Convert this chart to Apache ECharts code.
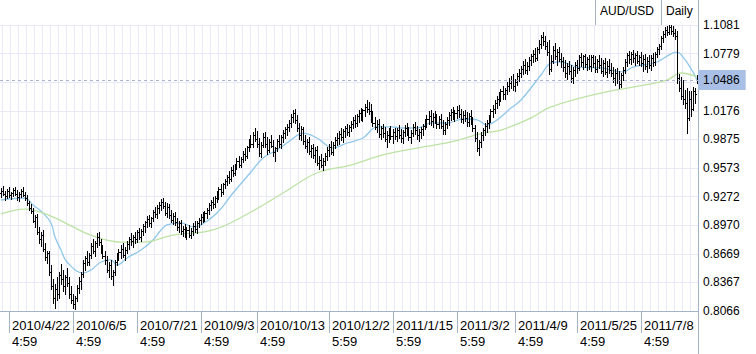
<!DOCTYPE html>
<html>
<head>
<meta charset="utf-8">
<title>AUD/USD Daily</title>
<script src="https://cdn.jsdelivr.net/npm/echarts@6.0.0/dist/echarts.min.js"></script>
<style>
  html, body { margin: 0; padding: 0; background: #fff; }
  #chart { width: 756px; height: 354px; }
</style>
</head>
<body>
<div id="chart"></div>
<script>
// AUD/USD daily bars
var opens = [
  .9310,.9335,.9300,.9280,.9330,.9290,.9310,.9340,.9300,.9270,
  .9300,.9330,.9290,.9260,.9200,.9150,.9120,.9020,.9060,.8900,
  .8820,.8870,.8720,.8640,.8680,.8480,.8330,.8200,.8300,.8250,
  .8450,.8400,.8330,.8420,.8360,.8240,.8180,.8140,.8200,.8310,
  .8380,.8460,.8570,.8620,.8580,.8660,.8750,.8700,.8780,.8850,
  .8790,.8700,.8650,.8600,.8500,.8550,.8430,.8480,.8580,.8650,
  .8690,.8720,.8660,.8710,.8770,.8830,.8800,.8850,.8820,.8900,
  .8850,.8910,.8960,.9000,.9040,.8990,.9050,.9110,.9090,.9150,
  .9180,.9220,.9170,.9100,.9160,.9080,.9030,.9070,.9000,.8950,
  .8990,.8910,.8930,.8880,.8920,.8870,.8910,.8960,.8930,.8990,
  .9030,.9060,.9040,.9100,.9130,.9180,.9220,.9190,.9260,.9310,
  .9350,.9320,.9400,.9440,.9480,.9460,.9550,.9520,.9600,.9650,
  .9610,.9670,.9720,.9700,.9790,.9850,.9830,.9920,.9880,.9830,
  .9730,.9820,.9900,.9830,.9760,.9850,.9810,.9740,.9780,.9860,
  .9830,.9900,.9940,.9980,1.0010,1.0050,1.0110,1.0150,1.0080,1.0000,
  .9920,.9980,.9860,.9810,.9850,.9750,.9780,.9710,.9760,.9630,
  .9660,.9600,.9650,.9700,.9760,.9800,.9740,.9820,.9870,.9890,
  .9930,.9900,.9960,.9990,.9950,1.0010,1.0040,1.0080,1.0050,1.0120,
  1.0150,1.0110,1.0180,1.0220,1.0200,1.0170,1.0100,1.0050,1.0010,1.0040,
  .9930,.9990,.9940,.9880,.9920,.9960,.9910,.9950,.9910,.9970,
  .9920,.9890,.9950,1.0000,.9960,.9900,.9940,1.0010,.9970,.9920,
  .9950,.9980,1.0020,1.0060,1.0090,1.0120,1.0070,1.0110,1.0080,1.0040,
  1.0090,1.0020,.9970,1.0040,1.0080,1.0130,1.0160,1.0110,1.0150,1.0190,
  1.0140,1.0090,1.0130,1.0100,1.0060,1.0120,1.0070,.9990,.9890,.9780,
  .9850,.9920,.9970,1.0020,1.0050,1.0110,1.0170,1.0200,1.0260,1.0300,
  1.0330,1.0380,1.0350,1.0400,1.0440,1.0470,1.0500,1.0440,1.0480,1.0540,
  1.0580,1.0620,1.0660,1.0610,1.0650,1.0710,1.0750,1.0780,1.0730,1.0830,
  1.0880,1.0950,1.0910,1.0860,1.0800,1.0620,1.0700,1.0820,1.0750,1.0800,
  1.0720,1.0700,1.0640,1.0580,1.0650,1.0600,1.0520,1.0610,1.0660,1.0630,
  1.0740,1.0690,1.0750,1.0670,1.0720,1.0650,1.0740,1.0680,1.0620,1.0700,
  1.0660,1.0600,1.0680,1.0590,1.0650,1.0610,1.0570,1.0520,1.0580,1.0500,
  1.0460,1.0550,1.0610,1.0690,1.0760,1.0720,1.0780,1.0730,1.0760,1.0700,
  1.0740,1.0680,1.0720,1.0650,1.0700,1.0660,1.0730,1.0690,1.0780,1.0830,
  1.0860,1.0940,1.0990,1.1030,1.1010,1.1060,1.1020,1.1000,1.0960,1.0520,
  1.0420,1.0330,1.0300,1.0260,1.0100,1.0300,1.0200,1.0380,1.0500
];
var highs = [
  .9360,.9380,.9330,.9350,.9370,.9320,.9360,.9370,.9340,.9320,
  .9350,.9370,.9320,.9290,.9230,.9190,.9150,.9080,.9090,.8950,
  .8900,.8920,.8780,.8700,.8700,.8550,.8400,.8350,.8420,.8480,
  .8560,.8500,.8450,.8520,.8420,.8330,.8250,.8220,.8340,.8420,
  .8480,.8600,.8650,.8700,.8680,.8780,.8820,.8800,.8890,.8900,
  .8830,.8760,.8700,.8650,.8580,.8600,.8500,.8600,.8680,.8720,
  .8760,.8780,.8740,.8800,.8850,.8890,.8870,.8900,.8920,.8940,
  .8930,.8980,.9020,.9070,.9080,.9060,.9130,.9160,.9180,.9210,
  .9250,.9260,.9210,.9200,.9190,.9130,.9100,.9110,.9050,.9020,
  .9030,.8960,.8980,.8950,.8970,.8940,.8990,.9020,.9010,.9050,
  .9090,.9110,.9120,.9150,.9200,.9240,.9270,.9280,.9330,.9370,
  .9400,.9420,.9460,.9500,.9540,.9580,.9600,.9620,.9680,.9700,
  .9690,.9750,.9780,.9810,.9880,.9920,.9950,.9990,.9960,.9890,
  .9850,.9940,.9950,.9900,.9880,.9920,.9870,.9800,.9880,.9920,
  .9920,.9970,1.0010,1.0040,1.0080,1.0140,1.0190,1.0200,1.0130,1.0050,
  1.0020,1.0010,.9920,.9880,.9900,.9820,.9830,.9790,.9810,.9700,
  .9720,.9680,.9730,.9790,.9830,.9860,.9850,.9900,.9940,.9960,
  1.0000,.9980,1.0020,1.0040,1.0030,1.0070,1.0110,1.0130,1.0140,1.0180,
  1.0210,1.0200,1.0250,1.0290,1.0270,1.0250,1.0170,1.0110,1.0080,1.0090,
  1.0020,1.0040,1.0010,.9960,.9990,1.0020,.9980,1.0000,.9990,1.0030,
  .9980,.9970,1.0030,1.0050,1.0010,.9970,1.0040,1.0060,1.0020,.9980,
  1.0010,1.0040,1.0090,1.0130,1.0170,1.0180,1.0150,1.0170,1.0140,1.0120,
  1.0140,1.0080,1.0060,1.0110,1.0160,1.0200,1.0220,1.0190,1.0230,1.0240,
  1.0200,1.0170,1.0190,1.0160,1.0150,1.0180,1.0110,1.0030,.9950,.9870,
  .9950,1.0000,1.0050,1.0080,1.0130,1.0200,1.0240,1.0290,1.0330,1.0370,
  1.0410,1.0440,1.0420,1.0480,1.0520,1.0540,1.0560,1.0510,1.0570,1.0620,
  1.0650,1.0700,1.0720,1.0690,1.0740,1.0780,1.0820,1.0840,1.0850,1.0920,
  1.0980,1.1010,1.0960,1.0900,1.0920,1.0760,1.0860,1.0890,1.0830,1.0850,
  1.0790,1.0740,1.0710,1.0680,1.0700,1.0660,1.0640,1.0690,1.0710,1.0760,
  1.0790,1.0770,1.0780,1.0740,1.0770,1.0760,1.0770,1.0750,1.0720,1.0760,
  1.0730,1.0710,1.0730,1.0700,1.0720,1.0680,1.0640,1.0620,1.0630,1.0600,
  1.0580,1.0640,1.0720,1.0790,1.0810,1.0800,1.0820,1.0790,1.0810,1.0770,
  1.0800,1.0760,1.0780,1.0740,1.0770,1.0760,1.0790,1.0800,1.0850,1.0880,
  1.0960,1.1020,1.1060,1.1075,1.1080,1.1078,1.1070,1.1040,1.1020,1.0560,
  1.0530,1.0500,1.0400,1.0420,1.0380,1.0390,1.0430,1.0420,1.0550
];
var lows = [
  .9270,.9290,.9240,.9260,.9270,.9250,.9280,.9290,.9240,.9230,
  .9270,.9280,.9240,.9180,.9130,.9100,.9000,.8950,.8880,.8780,
  .8750,.8700,.8600,.8570,.8450,.8300,.8150,.8100,.8180,.8200,
  .8350,.8280,.8250,.8330,.8200,.8150,.8100,.8090,.8170,.8260,
  .8300,.8420,.8500,.8550,.8550,.8620,.8680,.8650,.8740,.8760,
  .8680,.8620,.8560,.8480,.8420,.8400,.8340,.8450,.8550,.8600,
  .8620,.8640,.8600,.8680,.8720,.8760,.8740,.8780,.8790,.8820,
  .8800,.8870,.8900,.8950,.8960,.8950,.9010,.9060,.9050,.9100,
  .9130,.9150,.9080,.9060,.9050,.9000,.8980,.8970,.8920,.8900,
  .8880,.8860,.8850,.8820,.8850,.8840,.8870,.8900,.8890,.8950,
  .8980,.9000,.9010,.9050,.9090,.9130,.9150,.9160,.9220,.9250,
  .9280,.9300,.9360,.9390,.9420,.9440,.9490,.9500,.9560,.9580,
  .9580,.9640,.9660,.9680,.9750,.9800,.9790,.9860,.9800,.9700,
  .9690,.9790,.9800,.9720,.9740,.9790,.9700,.9650,.9750,.9790,
  .9780,.9850,.9890,.9920,.9960,1.0010,1.0060,1.0050,.9960,.9880,
  .9870,.9830,.9780,.9740,.9720,.9690,.9680,.9640,.9600,.9560,
  .9580,.9550,.9600,.9660,.9700,.9720,.9710,.9780,.9820,.9830,
  .9870,.9850,.9900,.9920,.9910,.9960,.9990,1.0010,1.0020,1.0060,
  1.0080,1.0070,1.0120,1.0160,1.0140,1.0060,1.0020,.9980,.9950,.9900,
  .9880,.9900,.9860,.9790,.9850,.9880,.9840,.9880,.9860,.9890,
  .9850,.9840,.9910,.9920,.9870,.9840,.9910,.9930,.9880,.9860,
  .9890,.9920,.9980,1.0010,1.0040,1.0030,1.0010,1.0050,1.0000,.9990,
  1.0000,.9930,.9930,1.0000,1.0030,1.0080,1.0090,1.0070,1.0100,1.0110,
  1.0060,1.0050,1.0070,1.0020,1.0020,1.0040,.9960,.9860,.9750,.9710,
  .9800,.9870,.9920,.9950,1.0000,1.0060,1.0110,1.0150,1.0210,1.0240,
  1.0280,1.0300,1.0300,1.0350,1.0380,1.0420,1.0400,1.0380,1.0450,1.0490,
  1.0530,1.0560,1.0580,1.0560,1.0610,1.0660,1.0690,1.0700,1.0710,1.0790,
  1.0840,1.0870,1.0830,1.0760,1.0560,1.0600,1.0680,1.0720,1.0660,1.0700,
  1.0640,1.0600,1.0530,1.0510,1.0560,1.0480,1.0470,1.0540,1.0570,1.0610,
  1.0650,1.0620,1.0640,1.0610,1.0620,1.0600,1.0640,1.0590,1.0590,1.0630,
  1.0570,1.0540,1.0560,1.0530,1.0580,1.0540,1.0480,1.0450,1.0470,1.0420,
  1.0430,1.0500,1.0580,1.0650,1.0680,1.0670,1.0690,1.0660,1.0680,1.0660,
  1.0650,1.0600,1.0620,1.0590,1.0630,1.0610,1.0650,1.0660,1.0740,1.0780,
  1.0830,1.0900,1.0950,1.0980,1.0990,1.0990,1.0960,1.0930,1.0470,1.0380,
  1.0300,1.0250,1.0210,.9940,1.0080,1.0120,1.0180,1.0260,1.0470
];
var closes = [
  .9335,.9300,.9280,.9330,.9290,.9310,.9340,.9300,.9270,.9300,
  .9330,.9290,.9260,.9200,.9150,.9120,.9020,.9060,.8900,.8820,
  .8870,.8720,.8640,.8680,.8480,.8330,.8200,.8300,.8250,.8450,
  .8400,.8330,.8420,.8360,.8240,.8180,.8140,.8200,.8310,.8380,
  .8460,.8570,.8620,.8580,.8660,.8750,.8700,.8780,.8850,.8790,
  .8700,.8650,.8600,.8500,.8550,.8430,.8480,.8580,.8650,.8690,
  .8720,.8660,.8710,.8770,.8830,.8800,.8850,.8820,.8900,.8850,
  .8910,.8960,.9000,.9040,.8990,.9050,.9110,.9090,.9150,.9180,
  .9220,.9170,.9100,.9160,.9080,.9030,.9070,.9000,.8950,.8990,
  .8910,.8930,.8880,.8920,.8870,.8910,.8960,.8930,.8990,.9030,
  .9060,.9040,.9100,.9130,.9180,.9220,.9190,.9260,.9310,.9350,
  .9320,.9400,.9440,.9480,.9460,.9550,.9520,.9600,.9650,.9610,
  .9670,.9720,.9700,.9790,.9850,.9830,.9920,.9880,.9830,.9730,
  .9820,.9900,.9830,.9760,.9850,.9810,.9740,.9780,.9860,.9830,
  .9900,.9940,.9980,1.0010,1.0050,1.0110,1.0150,1.0080,1.0000,.9920,
  .9980,.9860,.9810,.9850,.9750,.9780,.9710,.9760,.9630,.9660,
  .9600,.9650,.9700,.9760,.9800,.9740,.9820,.9870,.9890,.9930,
  .9900,.9960,.9990,.9950,1.0010,1.0040,1.0080,1.0050,1.0120,1.0150,
  1.0110,1.0180,1.0220,1.0200,1.0170,1.0100,1.0050,1.0010,1.0040,.9930,
  .9990,.9940,.9880,.9920,.9960,.9910,.9950,.9910,.9970,.9920,
  .9890,.9950,1.0000,.9960,.9900,.9940,1.0010,.9970,.9920,.9950,
  .9980,1.0020,1.0060,1.0090,1.0120,1.0070,1.0110,1.0080,1.0040,1.0090,
  1.0020,.9970,1.0040,1.0080,1.0130,1.0160,1.0110,1.0150,1.0190,1.0140,
  1.0090,1.0130,1.0100,1.0060,1.0120,1.0070,.9990,.9890,.9780,.9850,
  .9920,.9970,1.0020,1.0050,1.0110,1.0170,1.0200,1.0260,1.0300,1.0330,
  1.0380,1.0350,1.0400,1.0440,1.0470,1.0500,1.0440,1.0480,1.0540,1.0580,
  1.0620,1.0660,1.0610,1.0650,1.0710,1.0750,1.0780,1.0730,1.0830,1.0880,
  1.0950,1.0910,1.0860,1.0800,1.0620,1.0700,1.0820,1.0750,1.0800,1.0720,
  1.0700,1.0640,1.0580,1.0650,1.0600,1.0520,1.0610,1.0660,1.0630,1.0740,
  1.0690,1.0750,1.0670,1.0720,1.0650,1.0740,1.0680,1.0620,1.0700,1.0660,
  1.0600,1.0680,1.0590,1.0650,1.0610,1.0570,1.0520,1.0580,1.0500,1.0460,
  1.0550,1.0610,1.0690,1.0760,1.0720,1.0780,1.0730,1.0760,1.0700,1.0740,
  1.0680,1.0720,1.0650,1.0700,1.0660,1.0730,1.0690,1.0780,1.0830,1.0860,
  1.0940,1.0990,1.1030,1.1010,1.1060,1.1020,1.1000,1.0960,1.0520,1.0420,
  1.0330,1.0300,1.0260,1.0100,1.0300,1.0200,1.0380,1.0350,1.0486
];

// moving averages as drawn on the chart: [bar index, value]
var maFast = [
  [0,.9236],[12,.9257],[16,.9184],[21,.9099],[25,.8994],[27,.8846],[30,.8709],[33,.8583],
  [41,.8467],[45,.8498],[50,.8583],[55,.8604],[58,.8551],[63,.8625],[70,.8709],[76,.8815],
  [80,.8920],[83,.8973],[90,.8994],[96,.8952],[100,.8973],[108,.9099],[116,.9310],[125,.9531],
  [131,.9679],[138,.9763],[145,.9869],[151,.9942],[158,.9890],[166,.9784],[173,.9837],[181,.9890],
  [188,1.0006],[195,1.0006],[201,.9995],[208,.9995],[215,1.0048],[223,1.0048],[231,1.0090],[238,1.0080],
  [243,1.0027],[248,1.0080],[255,1.0206],[260,1.0290],[270,1.0554],[275,1.0680],[280,1.0691],[288,1.0638],
  [300,1.0628],[311,1.0586],[316,1.0638],[328,1.0691],[338,1.0796],[341,1.0744],[346,1.0586],[348,1.0501]
];
var maSlow = [
  [0,.9089],[12,.9141],[25,.9067],[36,.8952],[46,.8857],[60,.8793],[71,.8793],[86,.8867],
  [106,.8920],[125,.9110],[141,.9310],[158,.9521],[175,.9605],[191,.9711],[208,.9784],[225,.9848],
  [241,.9942],[250,.9974],[265,1.0101],[275,1.0217],[300,1.0364],[316,1.0427],[333,1.0501],[340,1.0575],
  [348,1.0533]
];

// price axis (the 1.0478 line sits under the current price box)
var priceMin = 0.8066;
var priceMax = 1.1081;
var priceTicks = [1.1081, 1.0779, 1.0176, 0.9875, 0.9573, 0.9272, 0.8970, 0.8669, 0.8367, 0.8066];

// time axis labels
var labelIdx = [4, 36, 68, 100, 128, 164, 196, 228, 257, 288, 320];
var labelDate = ['2010/4/22', '2010/6/5', '2010/7/21', '2010/9/3', '2010/10/13', '2010/12/2',
                 '2011/1/15', '2011/3/2', '2011/4/9', '2011/5/25', '2011/7/8'];
var labelTime = ['4:59', '4:59', '4:59', '4:59', '4:59', '5:59', '5:59', '5:59', '4:59', '4:59', '4:59'];

var symbolName = 'AUD/USD';
var periodName = 'Daily';

var N = closes.length;
var cats = [];
var bars = [];
for (var i = 0; i < N; i++) {
    cats.push('b' + i);
    bars.push([i, opens[i], highs[i], lows[i], closes[i]]);
}
var lastPrice = closes[N - 1];

function isLabel(i) {
    return labelIdx.indexOf(i) >= 0;
}

// OHLC bar: high-low stick, open tick on the left, close tick on the right
function renderBar(params, api) {
    var i = api.value(0);
    var hi = api.coord([i, api.value(2)]);
    var px = Math.floor(hi[0]);
    var yh = Math.round(hi[1]);
    var yl = Math.round(api.coord([i, api.value(3)])[1]);
    var yo = Math.round(api.coord([i, api.value(1)])[1]);
    var yc = Math.round(api.coord([i, api.value(4)])[1]);
    return {
        type: 'group',
        children: [
            {type: 'rect', shape: {x: px, y: yh, width: 1, height: Math.max(1, yl - yh + 1)}, style: {fill: '#000'}},
            {type: 'rect', shape: {x: px - 1, y: yo, width: 1, height: 1}, style: {fill: '#000'}},
            {type: 'rect', shape: {x: px + 1, y: yc, width: 1, height: 1}, style: {fill: '#000'}}
        ]
    };
}

var frame = '#a4b4c6';
var gridColor = '#e8e8f6';
var font = 'Liberation Sans';

var myChart = echarts.init(document.getElementById('chart'), null, {renderer: 'svg'});

option = {
    animation: false,
    backgroundColor: '#fff',
    grid: {
        left: 0,
        right: 58,
        top: 25,
        bottom: 43,
        containLabel: false,
        outerBoundsMode: 'none'
    },
    xAxis: {
        type: 'category',
        data: cats,
        boundaryGap: true,
        axisLine: {lineStyle: {color: frame}},
        axisTick: {
            show: true,
            alignWithLabel: true,
            interval: function (i) { return isLabel(i); },
            length: 22,
            lineStyle: {color: frame}
        },
        axisLabel: {
            interval: function (i) { return isLabel(i); },
            formatter: function (v, i) {
                var k = labelIdx.indexOf(i);
                return k < 0 ? '' : labelDate[k] + '\n' + labelTime[k];
            },
            align: 'left',
            margin: 6,
            padding: [0, 0, 0, 3],
            color: '#000',
            fontFamily: font,
            fontSize: 13,
            lineHeight: 16
        },
        splitLine: {
            show: true,
            interval: function (i) { return i % 4 === 1; },
            lineStyle: {color: gridColor}
        }
    },
    yAxis: [{
        type: 'value',
        position: 'right',
        min: priceMin,
        max: priceMax,
        axisLine: {show: true, lineStyle: {color: frame}},
        axisTick: {show: false},
        splitLine: {show: false},
        axisLabel: {
            customValues: priceTicks,
            formatter: function (v) { return v.toFixed(4); },
            margin: 5,
            color: '#000',
            fontFamily: font,
            fontSize: 12
        }
    }, {
        // only for the horizontal grid, 10 equal steps
        type: 'value',
        position: 'left',
        min: 0,
        max: 10,
        interval: 1,
        axisLine: {show: false},
        axisTick: {show: false},
        axisLabel: {show: false},
        splitLine: {show: true, lineStyle: {color: gridColor}}
    }],
    series: [{
        type: 'custom',
        name: symbolName,
        renderItem: renderBar,
        data: bars,
        encode: {x: 0, y: [1, 2, 3, 4]},
        clip: true,
        z: 3
    }, {
        type: 'line',
        name: 'MA fast',
        data: maFast,
        smooth: 0.4,
        symbol: 'none',
        lineStyle: {color: '#8fc7ea', width: 1.3},
        z: 2,
        markLine: {
            silent: true,
            symbol: ['none', 'none'],
            data: [{yAxis: lastPrice}],
            lineStyle: {color: '#a9b4cc', type: [3, 3], width: 1},
            label: {
                position: 'end',
                distance: 0,
                formatter: function () { return lastPrice.toFixed(4); },
                backgroundColor: '#a9bfe6',
                padding: [3, 6, 3, 5],
                color: '#000',
                fontFamily: font,
                fontSize: 12,
                lineHeight: 14
            }
        }
    }, {
        type: 'line',
        name: 'MA slow',
        data: maSlow,
        smooth: 0.4,
        symbol: 'none',
        lineStyle: {color: '#bde3a4', width: 1.3},
        z: 2
    }],
    graphic: [
        {type: 'line', silent: true, shape: {x1: 0, y1: 25.5, x2: 698, y2: 25.5}, style: {stroke: frame, lineWidth: 1}},
        {type: 'line', silent: true, shape: {x1: 698.5, y1: 0, x2: 698.5, y2: 354}, style: {stroke: frame, lineWidth: 1}},
        {type: 'line', silent: true, shape: {x1: 595.5, y1: 0, x2: 595.5, y2: 25}, style: {stroke: frame, lineWidth: 1}},
        {type: 'line', silent: true, shape: {x1: 661.5, y1: 0, x2: 661.5, y2: 25}, style: {stroke: frame, lineWidth: 1}},
        {type: 'text', left: 600, top: 5, style: {text: symbolName, fill: '#000', fontFamily: font, fontSize: 12}},
        {type: 'text', left: 666, top: 5, style: {text: periodName, fill: '#000', fontFamily: font, fontSize: 12}}
    ]
};

myChart.setOption(option);
</script>
</body>
</html>
